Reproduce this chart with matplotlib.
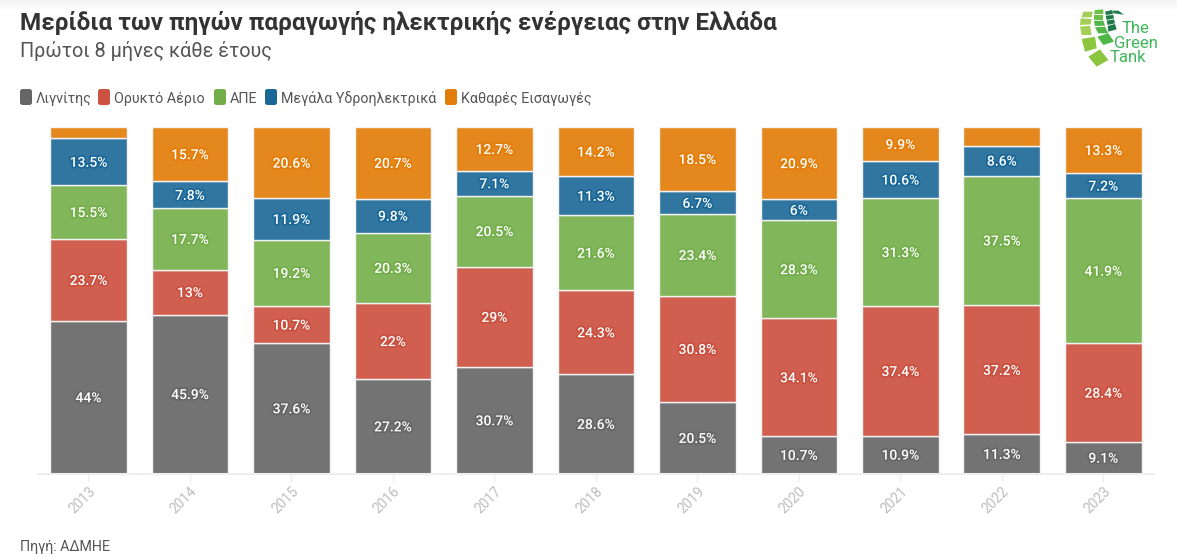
import matplotlib
matplotlib.use('Agg')
import matplotlib.pyplot as plt
import matplotlib.patheffects as pe
from matplotlib.patches import FancyBboxPatch, Polygon
import numpy as np

W, H = 1177, 557
FONT = 'Roboto'
plt.rcParams['font.family'] = [FONT, 'DejaVu Sans']

years = ['2013','2014','2015','2016','2017','2018','2019','2020','2021','2022','2023']
lignite = [44, 45.9, 37.6, 27.2, 30.7, 28.6, 20.5, 10.7, 10.9, 11.3, 9.1]
gas = [23.7, 13, 10.7, 22, 29, 24.3, 30.8, 34.1, 37.4, 37.2, 28.4]
res = [15.5, 17.7, 19.2, 20.3, 20.5, 21.6, 23.4, 28.3, 31.3, 37.5, 41.9]
hydro = [13.5, 7.8, 11.9, 9.8, 7.1, 11.3, 6.7, 6, 10.6, 8.6, 7.2]
imports = [3.3, 15.7, 20.6, 20.7, 12.7, 14.2, 18.5, 20.9, 9.9, 5.4, 13.3]
series_names = ['Λιγνίτης', 'Ορυκτό Αέριο', 'ΑΠΕ', 'Μεγάλα Υδροηλεκτρικά', 'Καθαρές Εισαγωγές']
series = [lignite, gas, res, hydro, imports]
colors = ['#737373', '#d05f4f', '#82b65b', '#3076a0', '#e4881d']
legend_colors = ['#666666', '#cc5140', '#74ae4b', '#1a6898', '#e37d09']
halo = ['#666666', '#c9503f', '#74ae4b', '#1a6898', '#e37d09']
unlabelled_below = 6.0

fig = plt.figure(figsize=(W/100, H/100), dpi=100, facecolor='white')

def fx(x): return x / W
def fy(y): return 1 - y / H

# faint shadow along the top edge
bg = fig.add_axes([0, fy(12), 1, 12/H], zorder=0)
bg.imshow(np.linspace(0.955, 1, 12)[:, None], cmap='gray', vmin=0, vmax=1, aspect='auto')
bg.axis('off')

ax = fig.add_axes([fx(37.7), fy(473.5), (1154-37.7)/W, 346.5/H], zorder=1)
ax.patch.set_alpha(0)
x = np.arange(len(years))
totals = np.sum(series, axis=0)
bottom = np.zeros(len(years))
for vals, c, h in zip(series, colors, halo):
    share = np.array(vals) / totals * 100
    ax.bar(x, share, width=0.755, bottom=bottom, color=c, edgecolor='#f4f4f4', linewidth=1)
    for xi, b, s, v in zip(x, bottom, share, vals):
        if v < unlabelled_below:
            continue
        ax.annotate(f'{v:g}%', (xi, b + s/2), xytext=(0, -0.7), textcoords='offset points',
                    ha='center', va='center', color='white', fontsize=10, fontweight='medium',
                    path_effects=[pe.withStroke(linewidth=2.5, foreground=h)])
    bottom += share
ax.set_xlim(-0.5, len(years) - 0.5)
ax.set_ylim(0, 100)
ax.yaxis.set_visible(False)
for s in ['top', 'left', 'right']:
    ax.spines[s].set_visible(False)
ax.spines['bottom'].set_color('#eeeeee')
ax.spines['bottom'].set_linewidth(1.5)
ax.set_xticks(x)
ax.set_xticklabels(years, rotation=45, ha='right', rotation_mode='anchor',
                   color='#bdbdbd', fontsize=10)
ax.tick_params(axis='x', length=5.8, width=1, color='#eeeeee', pad=2)

# Pixel-space overlay for legend swatches and logo
ov = fig.add_axes([0, 0, 1, 1], zorder=2)
ov.set_xlim(0, W)
ov.set_ylim(H, 0)
ov.axis('off')
ov.patch.set_alpha(0)

# Header
fig.text(fx(20), fy(30), 'Μερίδια των πηγών παραγωγής ηλεκτρικής ενέργειας στην Ελλάδα',
         fontsize=17.5, fontweight='bold', color='#333333', va='baseline')
fig.text(fx(20), fy(57), 'Πρώτοι 8 μήνες κάθε έτους', fontsize=14.3, color='#555555', va='baseline')
fig.text(fx(20), fy(551), 'Πηγή: ΑΔΜΗΕ', fontsize=10.3, color='#555555', va='baseline')

# Legend
for lx, c in zip([20, 98, 214, 265, 445], legend_colors):
    ov.add_patch(FancyBboxPatch((lx + 2, 91), 8, 12, boxstyle='round,pad=2,rounding_size=2.5',
                                facecolor=c, edgecolor='none'))
for tx, name in zip([36, 114, 230, 281, 461], series_names):
    fig.text(fx(tx), fy(103), name, fontsize=10.3, color='#555555', va='baseline')

# Logo (coordinates read on a 3x crop whose left edge is x=1040)
cells = {
    '#a3cf55': [[(130,35),(158,35),(155,52),(125,52)], [(122,55),(155,57),(152,73),(120,75)],
                [(120,80),(150,77),(155,105),(125,105)]],
    '#8cc63f': [[(125,117),(165,110),(170,145),(135,155)], [(145,170),(180,148),(205,180),(170,200)]],
    '#6cc04a': [[(165,30),(190,28),(190,42),(162,42)], [(162,45),(190,45),(190,60),(162,60)]],
    '#4fb748': [[(162,63),(190,62),(195,77),(165,78)], [(165,82),(195,80),(205,100),(175,100)],
                [(172,110),(205,100),(222,125),(190,135)]],
    '#1f7a4a': [[(195,35),(215,30),(220,42),(198,45)], [(197,47),(220,45),(222,55),(200,60)],
                [(200,62),(222,58),(225,70),(203,75)], [(203,78),(225,72),(230,88),(205,95)],
                [(215,32),(235,32),(252,44),(222,40)]],
}
for c, polys in cells.items():
    for p in polys:
        ov.add_patch(Polygon([(a/3 + 1040, b/3) for a, b in p], closed=True, facecolor=c, edgecolor='none'))
for tx, ty, t in [(1122, 33, 'The'), (1114, 47.5, 'Green'), (1110, 62.5, 'Tank')]:
    fig.text(fx(tx), fy(ty), t, fontsize=12, color='#3fb55a', va='baseline')

fig.savefig('out.png', dpi=100)
